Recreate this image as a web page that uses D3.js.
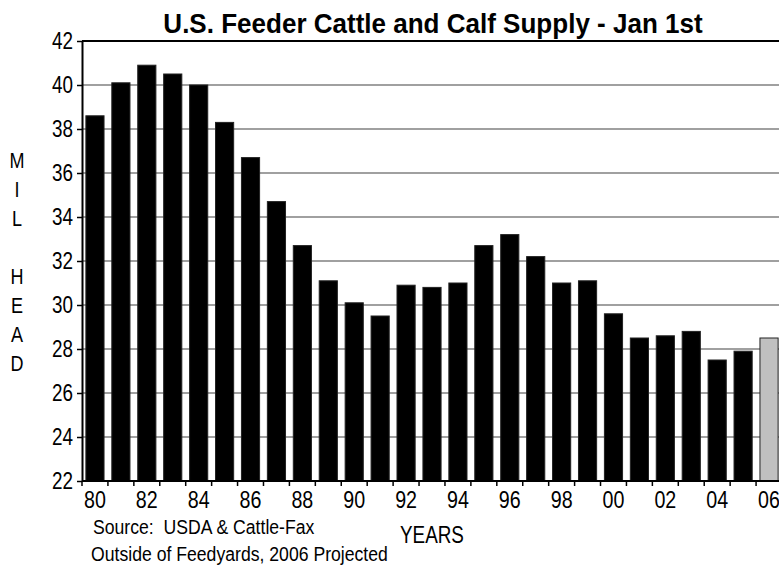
<!DOCTYPE html>
<html>
<head>
<meta charset="utf-8">
<script src="https://cdn.jsdelivr.net/npm/d3@7"></script>
<style>
  body { margin: 0; background: #fff; }
  text { font-family: "Liberation Sans", Arial, sans-serif; fill: #000; }
</style>
</head>
<body>
<div id="chart"></div>
<script>
var years = ["80", "81", "82", "83", "84", "85", "86", "87", "88", "89",
    "90", "91", "92", "93", "94", "95", "96", "97", "98", "99",
    "00", "01", "02", "03", "04", "05", "06"];
var supply = [38.6, 40.1, 40.9, 40.5, 40.0, 38.3, 36.7, 34.7, 32.7, 31.1,
    30.1, 29.5, 30.9, 30.8, 31.0, 32.7, 33.2, 32.2, 31.0, 31.1,
    29.6, 28.5, 28.6, 28.8, 27.5, 27.9, 28.5];
var projected = ["06"];
var yTicks = [22, 24, 26, 28, 30, 32, 34, 36, 38, 40, 42];
var xLabels = ["80", "82", "84", "86", "88", "90", "92", "94", "96", "98", "00", "02", "04", "06"];

var width = 779;
var height = 570;
var pLeft = 82, pTop = 41, pRight = 782, pBottom = 481;
var narrow = 0.82; // the original uses a narrow face

var svg = d3.select("#chart")
    .append("svg")
    .attr("width", width)
    .attr("height", height);

// text squeezed horizontally to look like Arial Narrow
function label(g, px, py, str, size, anchor, squeeze) {
    return g.append("text")
        .attr("transform", "translate(" + px + "," + py + ") scale(" + (squeeze || narrow) + ",1)")
        .attr("text-anchor", anchor || "start")
        .attr("xml:space", "preserve")
        .style("font-size", size + "px")
        .text(str);
}

var x = d3.scaleBand()
    .domain(years)
    .range([pLeft, pRight])
    .paddingInner(0.3)
    .paddingOuter(0.15);

var y = d3.scaleLinear()
    .domain([22, 42])
    .range([pBottom, pTop]);

// gridlines
svg.append("g")
    .selectAll("line")
    .data(yTicks.filter(function (d) { return d > 22 && d < 42; }))
    .enter()
    .append("line")
    .attr("x1", pLeft)
    .attr("x2", pRight)
    .attr("y1", function (d) { return y(d); })
    .attr("y2", function (d) { return y(d); })
    .attr("stroke", "#808080")
    .attr("stroke-width", 1.5);

// bars
svg.append("g")
    .selectAll("rect")
    .data(years)
    .enter()
    .append("rect")
    .attr("x", function (d) { return x(d); })
    .attr("width", x.bandwidth())
    .attr("y", function (d, i) { return y(supply[i]); })
    .attr("height", function (d, i) { return y(22) - y(supply[i]); })
    .attr("fill", function (d) { return projected.indexOf(d) >= 0 ? "#c0c0c0" : "#000"; })
    .attr("stroke", "#222")
    .attr("stroke-width", 1);

// y axis
var yAxis = d3.axisLeft(y)
    .tickValues(yTicks)
    .tickSize(5)
    .tickSizeOuter(0)
    .tickFormat("");

var yg = svg.append("g")
    .attr("transform", "translate(" + pLeft + ",0)")
    .call(yAxis);
yg.select(".domain").attr("stroke-width", 2);
yg.selectAll(".tick line").attr("stroke-width", 1.5);

var yl = svg.append("g");
yTicks.forEach(function (d) {
    label(yl, 73, y(d), String(d), 23, "end").attr("dy", "0.36em");
});

// x axis line and ticks at band edges
var step = x.step();
var edges = years.map(function (d) { return x(d) - (step - x.bandwidth()) / 2; });

svg.append("line")
    .attr("x1", pLeft)
    .attr("x2", pRight)
    .attr("y1", pBottom)
    .attr("y2", pBottom)
    .attr("stroke", "#000")
    .attr("stroke-width", 2);

svg.append("g")
    .selectAll("line")
    .data(edges)
    .enter()
    .append("line")
    .attr("x1", function (d) { return d; })
    .attr("x2", function (d) { return d; })
    .attr("y1", pBottom)
    .attr("y2", pBottom + 5)
    .attr("stroke", "#000")
    .attr("stroke-width", 1.5);

var xl = svg.append("g");
xLabels.forEach(function (d) {
    label(xl, x(d) + x.bandwidth() / 2, 508, d, 24, "middle");
});

// top border
svg.append("line")
    .attr("x1", pLeft)
    .attr("x2", pRight)
    .attr("y1", pTop)
    .attr("y2", pTop)
    .attr("stroke", "#000")
    .attr("stroke-width", 2);

// title
label(svg, 433, 33, "U.S. Feeder Cattle and Calf Supply - Jan 1st", 28, "middle", 0.93)
    .style("font-weight", "bold");

// vertical y label, one letter per line
var vl = svg.append("g");
"MIL HEAD".split("").forEach(function (c, i) {
    label(vl, 17, 160 + i * 29, c, 22, "middle").attr("dy", "0.36em");
});

label(svg, 432, 543, "YEARS", 23, "middle");
label(svg, 93, 534, "Source:  USDA & Cattle-Fax", 21, "start", 0.84);
label(svg, 91, 561, "Outside of Feedyards, 2006 Projected", 21, "start", 0.84);
</script>
</body>
</html>
